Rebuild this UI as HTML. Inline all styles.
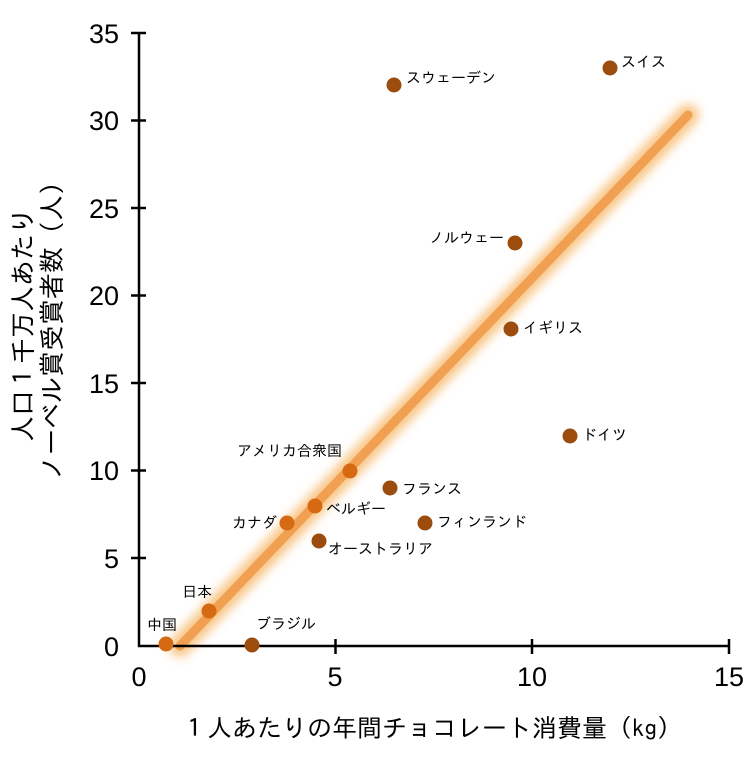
<!DOCTYPE html>
<html><head><meta charset="utf-8"><style>
body{margin:0;background:#fff;}
svg text{font-family:"Liberation Sans","IPAGothic","Noto Sans CJK JP",sans-serif;}
</style></head><body>
<svg width="756" height="757" viewBox="0 0 756 757" xmlns="http://www.w3.org/2000/svg">
<defs><filter id="g" x="-20%" y="-20%" width="140%" height="140%"><feGaussianBlur stdDeviation="5"/></filter></defs>
<line x1="180" y1="646" x2="688" y2="115" stroke="#f7b86a" stroke-width="22" stroke-linecap="round" filter="url(#g)" opacity="0.8"/>
<line x1="180" y1="646" x2="688" y2="115" stroke="#f0a050" stroke-width="9" stroke-linecap="round"/>
<g stroke="#000" stroke-width="2.5" fill="none">
<line x1="139" y1="33" x2="139" y2="647"/>
<line x1="138" y1="646" x2="730" y2="646"/>
<line x1="131" y1="33" x2="146" y2="33"/>
<line x1="131" y1="120.5" x2="146" y2="120.5"/>
<line x1="131" y1="208" x2="146" y2="208"/>
<line x1="131" y1="295.5" x2="146" y2="295.5"/>
<line x1="131" y1="383" x2="146" y2="383"/>
<line x1="131" y1="470.5" x2="146" y2="470.5"/>
<line x1="131" y1="558" x2="146" y2="558"/>
<line x1="335.5" y1="639" x2="335.5" y2="654"/>
<line x1="532" y1="639" x2="532" y2="654"/>
<line x1="729" y1="639" x2="729" y2="654"/>
</g>
<g font-size="27" text-anchor="end" fill="#000">
<text x="119" y="43">35</text><text x="119" y="130">30</text><text x="119" y="218">25</text>
<text x="119" y="305">20</text><text x="119" y="393">15</text><text x="119" y="480">10</text>
<text x="119" y="568">5</text><text x="119" y="656">0</text>
</g>
<g font-size="27" text-anchor="middle">
<text x="139" y="686">0</text><text x="335" y="686">5</text><text x="532" y="686">10</text><text x="729" y="686">15</text>
</g>
<text x="432" y="737" font-size="25" text-anchor="middle" style="font-family:'IPAGothic','Noto Sans CJK JP',sans-serif">１人あたりの年間チョコレート消費量（kg）</text>
<g transform="translate(32,325) rotate(-90)" font-size="26" text-anchor="middle" style="font-family:'IPAGothic','Noto Sans CJK JP',sans-serif">
<text x="0" y="0">人口１千万人あたり</text>
<text x="0" y="29">ノーベル賞受賞者数（人）</text>
</g>
<g fill="#9c4c0c">
<circle cx="252" cy="645" r="7.5"/><circle cx="319" cy="541" r="7.5"/>
<circle cx="390" cy="488" r="7.5"/><circle cx="425" cy="523" r="7.5"/>
<circle cx="394" cy="85" r="7.5"/><circle cx="610" cy="68" r="7.5"/>
<circle cx="515" cy="243" r="7.5"/><circle cx="511" cy="329" r="7.5"/>
<circle cx="570" cy="436" r="7.5"/>
</g>
<g fill="#d66a12">
<circle cx="166" cy="644" r="7.5"/><circle cx="209" cy="611" r="7.5"/>
<circle cx="287" cy="523" r="7.5"/><circle cx="315" cy="506" r="7.5"/>
<circle cx="350" cy="471" r="7.5"/>
</g>
<g font-size="15" fill="#000" style="font-family:'IPAGothic','Noto Sans CJK JP',sans-serif">
<text x="147" y="630">中国</text>
<text x="182" y="597">日本</text>
<text x="256" y="629">ブラジル</text>
<text x="232" y="528">カナダ</text>
<text x="326" y="514">ベルギー</text>
<text x="328" y="554">オーストラリア</text>
<text x="237" y="456">アメリカ合衆国</text>
<text x="402" y="494">フランス</text>
<text x="437" y="527">フィンランド</text>
<text x="406" y="83">スウェーデン</text>
<text x="621" y="67">スイス</text>
<text x="429" y="243">ノルウェー</text>
<text x="523" y="333">イギリス</text>
<text x="582" y="440">ドイツ</text>
</g>
</svg>
</body></html>
